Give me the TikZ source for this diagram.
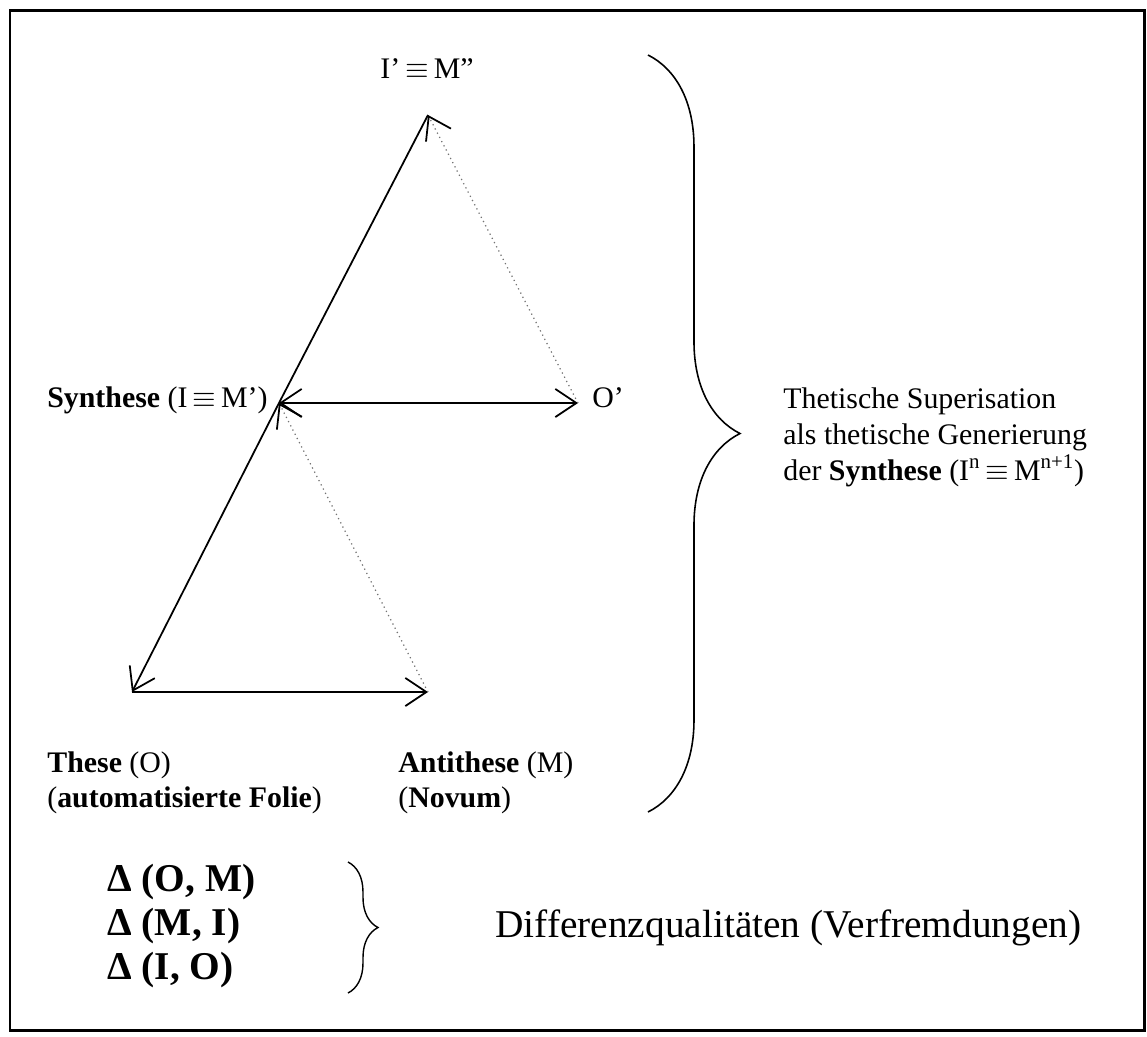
\documentclass[tikz,border=0pt]{standalone}
\usepackage{fontspec}
\setmainfont{Liberation Serif}
\usetikzlibrary{arrows.meta,decorations.pathreplacing}

\tikzset{barb/.tip={Straight Barb[length=12pt,width=16pt,line width=1pt,color=black]}}
\newcommand{\eqv}{\,$\equiv$\,}

\begin{document}
\begin{tikzpicture}[x=0.02cm, y=-0.02cm,
  every node/.style={font=\fontsize{17}{20}\selectfont, inner sep=0pt},
  solidline/.style={line width=1pt, black},
  dotline/.style={dotted, line width=0.7pt, black!55},
  bigtext/.style={font=\fontsize{22.4}{26}\selectfont}]

  \useasboundingbox (0,0) rectangle (1147,1036);
  \draw[line width=1.7pt] (10,10) rectangle (1144,1030);

  %% Corner points of the two triangles
  \coordinate (top)  at (428,115);
  \coordinate (syn)  at (279,403);
  \coordinate (opr)  at (578,403);
  \coordinate (the)  at (132,692);
  \coordinate (anti) at (428,692);

  % Solid connectors
  \draw[solidline] (syn) -- (top);
  \draw[solidline, -barb] (syn) -- (the);
  \draw[solidline, -barb] (the) -- (anti);
  \draw[solidline, barb-barb] (syn) -- (opr);

  % Dotted connectors
  \draw[dotline, -barb] (opr) -- (top);
  \draw[dotline, -barb] (anti) -- (syn);

  %% Labels at the corners
  \node[anchor=base] (topl) at (427,78) {I’\eqv M”};
  \node[anchor=base west] (synl) at (47,407) {\textbf{Synthese} (I\eqv M’)};
  \node[anchor=base west] (oprl) at (592,407) {O’};
  \node[anchor=base west] (thel) at (47,772) {\textbf{These} (O)};
  \node[anchor=base west] (thel2) at (47,807) {(\textbf{automatisierte Folie})};
  \node[anchor=base west] (antil) at (398,772) {\textbf{Antithese} (M)};
  \node[anchor=base west] (antil2) at (398,807) {(\textbf{Novum})};

  %% Right: big brace and its text
  \coordinate (bt) at (648,55);
  \coordinate (bb) at (648,812);
  \draw[line width=0.9pt, decorate, decoration={brace, amplitude=1.84cm}] (bt) -- (bb);
  \node[anchor=base west] (sup1) at (783,408) {Thetische Superisation};
  \node[anchor=base west] (sup2) at (783,444) {als thetische Generierung};
  \node[anchor=base west] (sup3) at (783,480) {der \textbf{Synthese} (I\textsuperscript{n}\eqv M\textsuperscript{n+1})};

  %% Bottom: differences
  \node[bigtext, font=\fontsize{22.4}{26}\selectfont\bfseries, anchor=base west] (d1) at (107,891) {Δ (O, M)};
  \node[bigtext, font=\fontsize{22.4}{26}\selectfont\bfseries, anchor=base west] (d2) at (107,935) {Δ (M, I)};
  \node[bigtext, font=\fontsize{22.4}{26}\selectfont\bfseries, anchor=base west] (d3) at (107,979) {Δ (I, O)};
  \coordinate (st) at (348,862);
  \coordinate (sb) at (348,993);
  \draw[line width=0.8pt, decorate, decoration={brace, amplitude=0.6cm}] (st) -- (sb);
  \node[bigtext, anchor=base west] (diff) at (495,937) {Differenzqualitäten (Verfremdungen)};

\end{tikzpicture}
\end{document}
